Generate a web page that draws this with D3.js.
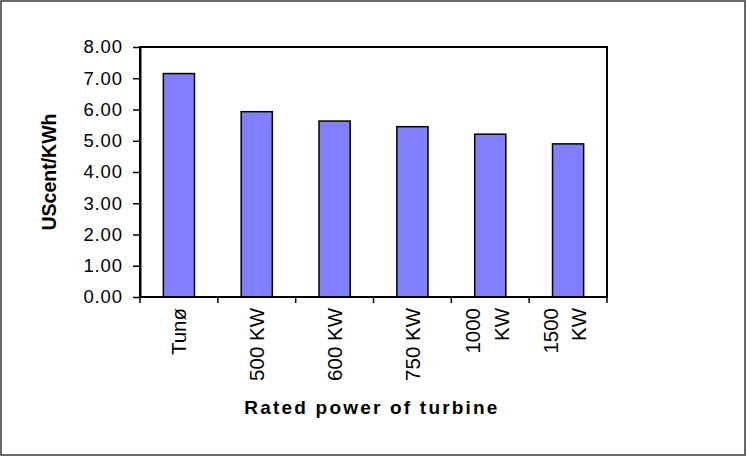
<!DOCTYPE html>
<html>
<head>
<meta charset="utf-8">
<script src="https://cdn.jsdelivr.net/npm/d3@7/dist/d3.min.js"></script>
<style>
  html, body { margin: 0; padding: 0; background: #fff; }
  svg { display: block; font-family: "Liberation Sans", Arial, sans-serif; }
</style>
</head>
<body>
<svg id="chart" width="747" height="457"></svg>
<script>
// Cost of wind energy by turbine size
const categories = ["Tunø", "500 KW", "600 KW", "750 KW", "1000 KW", "1500 KW"];
const costValues = [7.15, 5.93, 5.63, 5.45, 5.21, 4.90];
const yTicks = [0, 1, 2, 3, 4, 5, 6, 7, 8];
const yTitle = "UScent/KWh";
const xTitle = "Rated power of turbine";

const svg = d3.select("#chart");
const W = 747, H = 457;
const plot = { left: 140, top: 47, right: 607, bottom: 297 };

// outer frame
svg.append("rect")
  .attr("x", 1).attr("y", 1).attr("width", W - 3).attr("height", H - 3)
  .attr("fill", "#fff").attr("stroke", "#3a3a3a").attr("stroke-width", 1.5);

const x = d3.scaleBand().domain(categories).range([plot.left, plot.right]).padding(0);
const y = d3.scaleLinear().domain([0, 8]).range([plot.bottom, plot.top]);

// bars
const barFrac = 0.4;
svg.append("g").selectAll("rect").data(categories).join("rect")
  .attr("x", (d) => x(d) + x.bandwidth() * (1 - barFrac) / 2)
  .attr("width", x.bandwidth() * barFrac)
  .attr("y", (d, i) => y(costValues[i]))
  .attr("height", (d, i) => y(0) - y(costValues[i]))
  .attr("fill", "#8080FF")
  .attr("stroke", "#000").attr("stroke-width", 1.5);

// plot frame
svg.append("rect")
  .attr("x", plot.left).attr("y", plot.top)
  .attr("width", plot.right - plot.left).attr("height", plot.bottom - plot.top)
  .attr("fill", "none").attr("stroke", "#000").attr("stroke-width", 2);

// y axis
const yAxis = svg.append("g")
  .attr("transform", `translate(${plot.left},0)`)
  .call(d3.axisLeft(y).tickValues(yTicks).tickFormat(d3.format(".2f"))
    .tickSizeInner(7).tickSizeOuter(0).tickPadding(10));
yAxis.select(".domain").attr("stroke", "#000").attr("stroke-width", 2);
yAxis.selectAll(".tick line").attr("stroke", "#000").attr("stroke-width", 1.5);
yAxis.selectAll(".tick text")
  .attr("fill", "#000")
  .style("font-size", "18.5px")
  .style("letter-spacing", "0.9px")
  .style("font-family", "'Liberation Sans', Arial, sans-serif");

// x axis: ticks on category boundaries
const boundaries = categories.map((c) => x(c)).concat([x.range()[1]]);
svg.append("g").selectAll("line").data(boundaries).join("line")
  .attr("x1", (d) => d).attr("x2", (d) => d)
  .attr("y1", plot.bottom).attr("y2", plot.bottom + 6)
  .attr("stroke", "#000").attr("stroke-width", 1.5);

// x category labels, rotated, wrapped to the band width
const labelSize = 20.5;
const lineH = 1.38;
const labels = svg.append("g").selectAll("text").data(categories).join("text")
  .attr("transform", (d) => `translate(${x(d) + x.bandwidth() / 2},${plot.bottom + 11}) rotate(-90)`)
  .attr("text-anchor", "end")
  .style("font-size", labelSize + "px")
  .attr("fill", "#000");
labels.each(function (d) {
  const t = d3.select(this);
  t.text(d);
  let lines = [d];
  if (this.getComputedTextLength() > x.bandwidth()) lines = d.split(" ");
  t.text(null);
  const n = lines.length;
  lines.forEach((ln, i) => {
    t.append("tspan")
      .attr("x", 0)
      .attr("y", ((i - (n - 1) / 2) * lineH + 0.35) * labelSize - (n > 1 ? 3 : 0))
      .text(ln);
  });
});

// axis titles
svg.append("text")
  .attr("transform", `translate(56,172) rotate(-90)`)
  .attr("text-anchor", "middle")
  .style("font-size", "19.5px").style("font-weight", "bold")
  .attr("fill", "#000")
  .text(yTitle);

svg.append("text")
  .attr("x", 372).attr("y", 414)
  .attr("text-anchor", "middle")
  .style("font-size", "19px").style("font-weight", "bold")
  .style("letter-spacing", "2.2px")
  .attr("fill", "#000")
  .text(xTitle);
</script>
</body>
</html>
